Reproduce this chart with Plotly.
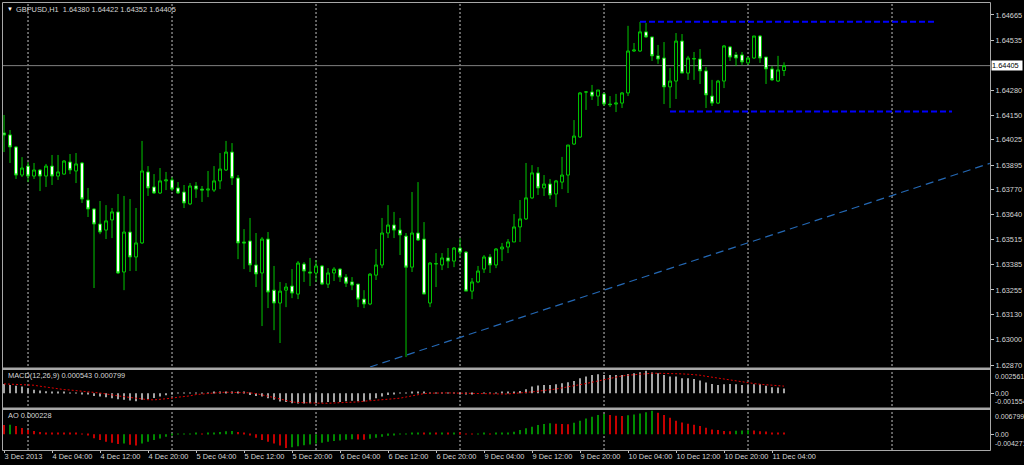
import plotly.graph_objects as go

# ---------------- data ----------------
symbol = "GBPUSD,H1"

opens = [1.64060, 1.64050, 1.63988, 1.63844, 1.63890, 1.63839, 1.63870, 1.63839, 1.63890, 1.63839,
         1.63849, 1.63911, 1.63865, 1.63906, 1.63716, 1.63670, 1.63593, 1.63562, 1.63614, 1.63655,
         1.63347, 1.63552, 1.63424, 1.63496, 1.63860, 1.63783, 1.63752, 1.63814, 1.63819, 1.63778,
         1.63757, 1.63696, 1.63788, 1.63772, 1.63767, 1.63767, 1.63814, 1.63870, 1.63962, 1.63829,
         1.63501, 1.63506, 1.63383, 1.63342, 1.63516, 1.63254, 1.63188, 1.63254, 1.63275, 1.63234,
         1.63388, 1.63347, 1.63342, 1.63378, 1.63285, 1.63342, 1.63362, 1.63321, 1.63296, 1.63285,
         1.63208, 1.63183, 1.63331, 1.63383, 1.63547, 1.63588, 1.63562, 1.63531, 1.63372, 1.63547,
         1.63516, 1.63188, 1.63388, 1.63383, 1.63419, 1.63403, 1.63470, 1.63449, 1.63249, 1.63296,
         1.63362, 1.63424, 1.63383, 1.63465, 1.63475, 1.63501, 1.63578, 1.63619, 1.63727, 1.63855,
         1.63778, 1.63798, 1.63747, 1.63808, 1.63844, 1.64003, 1.64039, 1.64270, 1.64270, 1.64249,
         1.64260, 1.64208, 1.64208, 1.64213, 1.64265, 1.64480, 1.64480, 1.64578, 1.64552, 1.64455,
         1.64444, 1.64296, 1.64326, 1.64531, 1.64367, 1.64439, 1.64439, 1.64378, 1.64249, 1.64213,
         1.64326, 1.64501, 1.64460, 1.64460, 1.64419, 1.64444, 1.64557, 1.64449, 1.64388, 1.64326,
         1.64380]

highs = [1.64152, 1.64075, 1.63993, 1.63936, 1.63911, 1.63906, 1.63875, 1.63901, 1.63947, 1.63947,
         1.63921, 1.63952, 1.63957, 1.63911, 1.63778, 1.63675, 1.63711, 1.63690, 1.63675, 1.63747,
         1.63737, 1.63721, 1.63675, 1.64019, 1.63890, 1.63849, 1.63880, 1.63860, 1.63834, 1.63808,
         1.63793, 1.63803, 1.63808, 1.63788, 1.63865, 1.63890, 1.63957, 1.64019, 1.64008, 1.63844,
         1.63567, 1.63624, 1.63547, 1.63526, 1.63552, 1.63378, 1.63296, 1.63290, 1.63362, 1.63403,
         1.63398, 1.63419, 1.63408, 1.63383, 1.63367, 1.63372, 1.63367, 1.63336, 1.63321, 1.63285,
         1.63254, 1.63342, 1.63465, 1.63624, 1.63690, 1.63655, 1.63624, 1.63547, 1.63757, 1.63808,
         1.63603, 1.63398, 1.63444, 1.63444, 1.63470, 1.63475, 1.63521, 1.63454, 1.63316, 1.63378,
         1.63434, 1.63439, 1.63470, 1.63496, 1.63516, 1.63644, 1.63716, 1.63906, 1.63895, 1.63885,
         1.63844, 1.63824, 1.63819, 1.63937, 1.63998, 1.64126, 1.64270, 1.64275, 1.64306, 1.64280,
         1.64265, 1.64249, 1.64260, 1.64270, 1.64609, 1.64521, 1.64629, 1.64624, 1.64552, 1.64511,
         1.64526, 1.64393, 1.64572, 1.64567, 1.64455, 1.64475, 1.64490, 1.64398, 1.64332, 1.64332,
         1.64511, 1.64506, 1.64475, 1.64475, 1.64449, 1.64557, 1.64562, 1.64449, 1.64403, 1.64455,
         1.64422]

lows = [1.63962, 1.63906, 1.63824, 1.63834, 1.63808, 1.63824, 1.63762, 1.63783, 1.63793, 1.63819,
        1.63846, 1.63849, 1.63803, 1.63701, 1.63629, 1.63265, 1.63541, 1.63516, 1.63521, 1.63337,
        1.63254, 1.63352, 1.63352, 1.63491, 1.63737, 1.63747, 1.63747, 1.63767, 1.63762, 1.63747,
        1.63675, 1.63690, 1.63727, 1.63706, 1.63731, 1.63757, 1.63772, 1.63865, 1.63793, 1.63413,
        1.63362, 1.63347, 1.63270, 1.63070, 1.63162, 1.63049, 1.62983, 1.63167, 1.63213, 1.63208,
        1.63296, 1.63275, 1.63296, 1.63280, 1.63265, 1.63301, 1.63296, 1.63270, 1.63254, 1.63167,
        1.63162, 1.63177, 1.63306, 1.63367, 1.63521, 1.63521, 1.63434, 1.62911, 1.63347, 1.63506,
        1.63234, 1.63167, 1.63270, 1.63357, 1.63367, 1.63372, 1.63424, 1.63249, 1.63208, 1.63290,
        1.63342, 1.63342, 1.63367, 1.63403, 1.63444, 1.63501, 1.63501, 1.63614, 1.63721, 1.63742,
        1.63737, 1.63721, 1.63680, 1.63772, 1.63752, 1.63998, 1.64034, 1.64178, 1.64229, 1.64198,
        1.64198, 1.64193, 1.64167, 1.64188, 1.64249, 1.64475, 1.64475, 1.64547, 1.64429, 1.64414,
        1.64208, 1.64188, 1.64234, 1.64367, 1.64332, 1.64332, 1.64311, 1.64188, 1.64198, 1.64208,
        1.64290, 1.64429, 1.64403, 1.64409, 1.64409, 1.64439, 1.64419, 1.64311, 1.64326, 1.64321,
        1.64352]

closes = [1.64049, 1.63988, 1.63844, 1.63880, 1.63839, 1.63870, 1.63839, 1.63890, 1.63839, 1.63860,
          1.63916, 1.63870, 1.63901, 1.63721, 1.63670, 1.63593, 1.63552, 1.63609, 1.63655, 1.63342,
          1.63552, 1.63424, 1.63496, 1.63865, 1.63778, 1.63752, 1.63814, 1.63819, 1.63772, 1.63752,
          1.63701, 1.63788, 1.63772, 1.63767, 1.63772, 1.63814, 1.63875, 1.63962, 1.63829, 1.63496,
          1.63496, 1.63383, 1.63337, 1.63516, 1.63244, 1.63188, 1.63249, 1.63270, 1.63239, 1.63393,
          1.63352, 1.63342, 1.63378, 1.63285, 1.63342, 1.63362, 1.63321, 1.63290, 1.63280, 1.63208,
          1.63183, 1.63336, 1.63383, 1.63547, 1.63588, 1.63562, 1.63537, 1.63372, 1.63547, 1.63511,
          1.63234, 1.63393, 1.63390, 1.63419, 1.63403, 1.63470, 1.63449, 1.63249, 1.63296, 1.63352,
          1.63424, 1.63383, 1.63465, 1.63475, 1.63501, 1.63578, 1.63619, 1.63727, 1.63855, 1.63778,
          1.63798, 1.63742, 1.63814, 1.63844, 1.63998, 1.64044, 1.64265, 1.64270, 1.64249, 1.64280,
          1.64208, 1.64205, 1.64213, 1.64265, 1.64480, 1.64485, 1.64578, 1.64552, 1.64455, 1.64439,
          1.64296, 1.64326, 1.64531, 1.64367, 1.64444, 1.64441, 1.64378, 1.64255, 1.64213, 1.64326,
          1.64506, 1.64449, 1.64444, 1.64424, 1.64444, 1.64557, 1.64444, 1.64388, 1.64332, 1.64383,
          1.64405]

macd_main = [0.00105, 0.00094, 0.00083, 0.00075, 0.00056, 0.00038, 0.00030, 0.00023, 0.00020, 0.00015,
             0.00010, 0.00008, 0.00004, -0.00008, -0.00015, -0.00030, -0.00038, -0.00045, -0.00056, -0.00068,
             -0.00075, -0.00083, -0.00090, -0.00075, -0.00064, -0.00053, -0.00038, -0.00023, -0.00011, 0.00008,
             0.00008, 0.00008, 0.00004, 0.00004, 0.00008, 0.00011, 0.00015, 0.00019, 0.00019, 0.00011,
             0.00011, -0.00019, -0.00030, -0.00038, -0.00056, -0.00075, -0.00094, -0.00100, -0.00113, -0.00116,
             -0.00116, -0.00113, -0.00113, -0.00105, -0.00100, -0.00098, -0.00098, -0.00090, -0.00086, -0.00090,
             -0.00094, -0.00075, -0.00056, -0.00038, -0.00019, -0.00011, 0.00004, 0.00004, 0.00011, 0.00015,
             0.00011, 0.00008, 0.00008, 0.00008, 0.00004, 0.00004, -0.00004, -0.00008, -0.00004, 0.00000,
             0.00004, 0.00004, 0.00008, 0.00011, 0.00015, 0.00019, 0.00026, 0.00045, 0.00075, 0.00086,
             0.00094, 0.00094, 0.00101, 0.00113, 0.00124, 0.00139, 0.00169, 0.00188, 0.00206, 0.00214,
             0.00206, 0.00206, 0.00206, 0.00206, 0.00218, 0.00225, 0.00237, 0.002561, 0.00233, 0.00225,
             0.00206, 0.00188, 0.00188, 0.00169, 0.00169, 0.00161, 0.00143, 0.00120, 0.00105, 0.00094,
             0.00101, 0.00105, 0.00101, 0.00094, 0.00094, 0.00101, 0.00101, 0.00083, 0.00068, 0.00064,
             0.000543]

macd_signal = [0.00105, 0.00103, 0.00101, 0.00099, 0.00098, 0.00090, 0.00079, 0.00068, 0.00056, 0.00049,
               0.00041, 0.00036, 0.00030, 0.00024, 0.00019, 0.00011, 0.00002, -0.00008, -0.00023, -0.00030,
               -0.00039, -0.00049, -0.00060, -0.00068, -0.00073, -0.00075, -0.00071, -0.00064, -0.00056, -0.00045,
               -0.00038, -0.00030, -0.00015, -0.00008, 0.00000, 0.00004, 0.00008, 0.00011, 0.00011, 0.00011,
               0.00008, 0.00004, -0.00004, -0.00015, -0.00034, -0.00049, -0.00068, -0.00083, -0.00098, -0.00105,
               -0.00109, -0.00113, -0.00113, -0.00113, -0.00113, -0.00111, -0.00109, -0.00105, -0.00101, -0.00098,
               -0.00090, -0.00086, -0.00079, -0.00073, -0.00068, -0.00062, -0.00056, -0.00041, -0.00026, -0.00015,
               -0.00004, 0.00000, 0.00004, 0.00004, 0.00004, 0.00002, 0.00000, -0.00002, -0.00004, -0.00008,
               -0.00009, -0.00011, -0.00011, -0.00009, -0.00008, -0.00004, 0.00004, 0.00008, 0.00015, 0.00023,
               0.00030, 0.00038, 0.00047, 0.00060, 0.00071, 0.00083, 0.00094, 0.00109, 0.00124, 0.00139,
               0.00158, 0.00173, 0.00184, 0.00195, 0.00203, 0.00210, 0.00216, 0.00221, 0.00225, 0.00225,
               0.00225, 0.00223, 0.00221, 0.00218, 0.00214, 0.00210, 0.00203, 0.00191, 0.00180, 0.00169,
               0.00158, 0.00146, 0.00135, 0.00128, 0.00116, 0.00109, 0.00101, 0.00096, 0.00090, 0.00084,
               0.000799]

ao_values = [0.00262, 0.00271, 0.00233, 0.00175, 0.00118, 0.00089, 0.00060, 0.00041, 0.00036, 0.00032,
             0.00029, 0.00025, 0.00020, 0.00015, -0.00020, -0.00120, -0.00170, -0.00218, -0.00246, -0.00285,
             -0.00266, -0.00304, -0.00323, -0.00266, -0.00218, -0.00170, -0.00122, -0.00074, -0.00035, -0.00007,
             0.00003, 0.00012, 0.00022, 0.00012, 0.00027, 0.00041, 0.00060, 0.00080, 0.00089, 0.00060,
             0.00032, -0.00016, -0.00103, -0.00170, -0.00218, -0.00266, -0.00330, -0.00400, -0.00380, -0.00350,
             -0.00320, -0.00295, -0.00270, -0.00245, -0.00220, -0.00200, -0.00180, -0.00160, -0.00145, -0.00155,
             -0.00162, -0.00135, -0.00105, -0.00075, -0.00045, -0.00021, 0.00003, 0.00012, 0.00022, 0.00032,
             0.00027, 0.00032, 0.00027, 0.00032, 0.00027, 0.00032, 0.00027, 0.00017, 0.00012, 0.00017,
             0.00022, 0.00017, 0.00022, 0.00027, 0.00041, 0.00070, 0.00118, 0.00166, 0.00214, 0.00262,
             0.00290, 0.00310, 0.00300, 0.00290, 0.00286, 0.00329, 0.00386, 0.00453, 0.00501, 0.00549,
             0.00578, 0.00549, 0.00530, 0.00520, 0.00540, 0.00568, 0.00597, 0.00626, 0.006799, 0.00616,
             0.00549, 0.00472, 0.00386, 0.00338, 0.00300, 0.00271, 0.00233, 0.00185, 0.00137, 0.00118,
             0.00089, 0.00080, 0.00095, 0.00105, 0.00115, 0.00105, 0.00085, 0.00075, 0.00045, 0.00030,
             0.000228]

price_ticks = [1.64665, 1.64535, 1.64280, 1.64150, 1.64025, 1.63895, 1.63770, 1.63640,
               1.63515, 1.63385, 1.63255, 1.63130, 1.63000, 1.62870]

time_label_bars = [0, 8, 16, 24, 32, 40, 48, 56, 64, 72, 80, 88, 96, 104, 112, 120, 128]
time_labels = ["3 Dec 2013", "4 Dec 04:00", "4 Dec 12:00", "4 Dec 20:00", "5 Dec 04:00",
               "5 Dec 12:00", "5 Dec 20:00", "6 Dec 04:00", "6 Dec 12:00", "6 Dec 20:00",
               "9 Dec 04:00", "9 Dec 12:00", "9 Dec 20:00", "10 Dec 04:00", "10 Dec 12:00",
               "10 Dec 20:00", "11 Dec 04:00"]
day_start_bars = [4, 28, 52, 76, 100, 124, 148]

level_prices = [1.64630, 1.64170]
level_from = [106, 111]
level_to = [155, 158]

trend_bars = [61, 164.3]
trend_prices = [1.62860, 1.63904]

main_range = [1.62860, 1.64721]
macd_range = [-0.001554, 0.002561]
ao_range = [-0.004271, 0.006799]
bar_range = [-0.17, 164.33]

# ---------------- layout helpers ----------------
W, H = 1024, 465
ML, MR, MT, MB = 3, 34, 4, 15
PW, PH = W - ML - MR, H - MT - MB


def px_x(p):
    return (p - ML) / PW


def px_y(p):
    return (H - MB - p) / PH


bars = list(range(len(opens)))
TXT = "#d6d6d6"
FONT = "Liberation Sans, Arial, sans-serif"
FS = 7.4
FS_SMALL = 7.0

fig = go.Figure()

# candles
fig.add_trace(go.Candlestick(
    x=bars, open=opens, high=highs, low=lows, close=closes,
    increasing=dict(line=dict(color="#00c800", width=1), fillcolor="#000000"),
    decreasing=dict(line=dict(color="#00c800", width=1), fillcolor="#ffffff"),
    whiskerwidth=0, xaxis="x", yaxis="y", hoverinfo="skip"))

# support / resistance levels
for p, a, b in zip(level_prices, level_from, level_to):
    fig.add_trace(go.Scatter(x=[a, b], y=[p, p], mode="lines",
                             line=dict(color="#0000ff", width=2, dash="6px,3px"),
                             xaxis="x", yaxis="y", hoverinfo="skip"))

# trend line
fig.add_trace(go.Scatter(x=trend_bars, y=trend_prices, mode="lines",
                         line=dict(color="#2468b4", width=1.2, dash="8px,5px"),
                         xaxis="x", yaxis="y", hoverinfo="skip"))

# MACD
fig.add_trace(go.Bar(x=bars, y=macd_main, width=0.18, marker=dict(color="#a4a4a4", line=dict(width=0)),
                     xaxis="x", yaxis="y2", hoverinfo="skip"))
fig.add_trace(go.Scatter(x=bars, y=macd_signal, mode="lines",
                         line=dict(color="#e00000", width=1, dash="2px,2px"),
                         xaxis="x", yaxis="y2", hoverinfo="skip"))

# AO
ao_colors = ["#008a00" if (i > 0 and v > ao_values[i - 1]) else "#c40000" for i, v in enumerate(ao_values)]
fig.add_trace(go.Bar(x=bars, y=ao_values, width=0.18, marker=dict(color=ao_colors, line=dict(width=0)),
                     xaxis="x", yaxis="y3", hoverinfo="skip"))

shapes = []
# day separators (dashed grid)
for d in day_start_bars:
    shapes.append(dict(type="line", xref="x", yref="paper", x0=d, x1=d, y0=px_y(450), y1=px_y(4),
                       line=dict(color="#c4c4c4", width=1, dash="2px,2px"), layer="below"))
# current price line
shapes.append(dict(type="line", xref="paper", yref="y", x0=0, x1=1, y0=closes[-1], y1=closes[-1],
                   line=dict(color="#808080", width=1), layer="below"))
# frame and panel separators
shapes.append(dict(type="rect", xref="paper", yref="paper", x0=px_x(2.5), x1=px_x(990.5),
                   y0=px_y(450.5), y1=px_y(2.5), line=dict(color="#a8a8a8", width=1)))
for yy in (368.8, 408.8):
    shapes.append(dict(type="line", xref="paper", yref="paper", x0=px_x(2.5), x1=px_x(990.5),
                       y0=px_y(yy), y1=px_y(yy), line=dict(color="#a8a8a8", width=2.5)))

ann = []
ann.append(dict(text="▼", xref="paper", yref="paper", x=px_x(4.5), y=px_y(9.5), xanchor="left",
                yanchor="middle", showarrow=False, font=dict(size=6, color="#ffffff", family=FONT)))
ann.append(dict(text=f"{symbol}  {opens[-1]:.5f} {highs[-1]:.5f} {lows[-1]:.5f} {closes[-1]:.5f}",
                xref="paper", yref="paper", x=px_x(14), y=px_y(9.5), xanchor="left", yanchor="middle",
                showarrow=False, font=dict(size=FS, color=TXT, family=FONT)))
ann.append(dict(text=f"MACD(12,26,9) {macd_main[-1]:.6f} {macd_signal[-1]:.6f}",
                xref="paper", yref="paper", x=px_x(6), y=px_y(375.7), xanchor="left", yanchor="middle",
                showarrow=False, font=dict(size=FS, color=TXT, family=FONT)))
ann.append(dict(text=f"AO {ao_values[-1]:.6f}",
                xref="paper", yref="paper", x=px_x(6), y=px_y(415.7), xanchor="left", yanchor="middle",
                showarrow=False, font=dict(size=FS, color=TXT, family=FONT)))
# current price box
ann.append(dict(text=f"{closes[-1]:.5f}", xref="paper", yref="y", x=px_x(991), y=closes[-1],
                xanchor="left", yanchor="middle", showarrow=False, bgcolor="#ffffff",
                width=30, height=9, align="left", borderpad=0,
                font=dict(size=FS, color="#000000", family=FONT)))
# indicator scale labels
for yref, rng in (("y2", macd_range), ("y3", ao_range)):
    top_txt = f"{rng[1]:.6f}"
    bot_txt = f"{rng[0]:.6f}"
    for val, txt, anc in ((rng[1], top_txt, "top"), (0.0, "0.00", "middle"), (rng[0], bot_txt, "bottom")):
        ann.append(dict(text=txt, xref="paper", yref=yref, x=px_x(992.5), y=val, xanchor="left",
                        yanchor=anc, showarrow=False,
                        font=dict(size=FS_SMALL, color=TXT, family=FONT)))

axis_common = dict(showgrid=False, zeroline=False, showline=False, fixedrange=True, automargin=False)

fig.update_layout(
    width=W, height=H,
    margin=dict(l=ML, r=MR, t=MT, b=MB, pad=0, autoexpand=False),
    paper_bgcolor="#000000", plot_bgcolor="#000000",
    showlegend=False, barmode="overlay",
    font=dict(family=FONT, size=FS, color=TXT),
    xaxis=dict(domain=[0, 1], range=bar_range, anchor="y3", tickmode="array",
               tickvals=time_label_bars, ticktext=time_labels, ticks="outside", ticklen=3,
               tickcolor="#c0c0c0", ticklabelposition="outside right", tickangle=0,
               tickfont=dict(size=FS, color=TXT, family=FONT),
               rangeslider=dict(visible=False), **axis_common),
    yaxis=dict(domain=[px_y(367), 1], range=main_range, side="right", anchor="x",
               tickmode="array", tickvals=price_ticks, ticktext=[f"{v:.5f}" for v in price_ticks],
               ticks="outside", ticklen=3, tickcolor="#c0c0c0",
               tickfont=dict(size=FS, color=TXT, family=FONT), **axis_common),
    yaxis2=dict(domain=[px_y(407), px_y(370.5)], range=macd_range, side="right", anchor="x",
                tickmode="array", tickvals=[0], ticks="outside", ticklen=3, tickcolor="#c0c0c0",
                showticklabels=False, **axis_common),
    yaxis3=dict(domain=[px_y(449), px_y(410.5)], range=ao_range, side="right", anchor="x",
                tickmode="array", tickvals=[0], ticks="outside", ticklen=3, tickcolor="#c0c0c0",
                showticklabels=False, **axis_common),
    shapes=shapes, annotations=ann,
)

fig.write_html("out.html", config={"displayModeBar": False},
               post_script="document.body.style.margin='0';document.body.style.background='#000';"
                           "document.body.style.overflow='hidden';")
